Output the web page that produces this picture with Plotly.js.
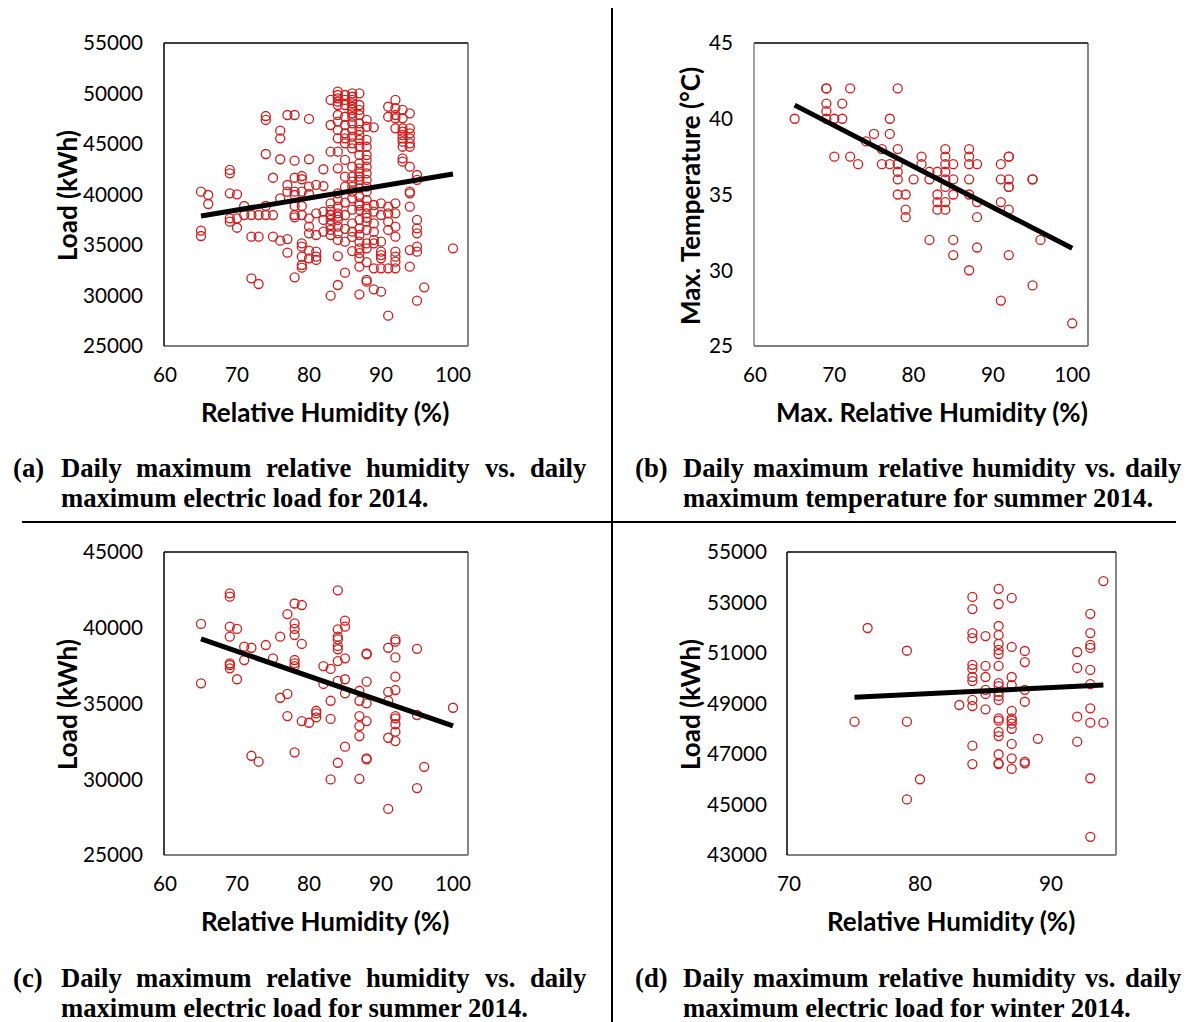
<!DOCTYPE html>
<html><head><meta charset="utf-8">
<script src="https://cdn.plot.ly/plotly-3.0.1.min.js"></script>
<style>body{margin:0;background:#fff}#chart{width:1187px;height:1022px}</style>
</head><body><div id="chart"></div>
<script>
// ---------- DATA ----------
// (a) daily max relative humidity vs daily max load, 2014
const humA = [65,65,65,66,66,69,69,69,69,69,70,70,70,71,71,72,72,72,73,73,73,74,74,74,74,74,75,75,75,76,76,76,76,76,77,77,77,77,77,
78,78,78,78,78,78,78,78,78,79,79,79,79,79,79,79,79,79,79,80,80,80,80,80,80,80,80,80,81,81,81,81,81,81,82,82,82,82,82,
83,83,83,83,83,83,83,83,83,83,83,
84,84,84,84,84,84,84,84,84,84,84,84,84,84,84,84,84,84,84,84,
85,85,85,85,85,85,85,85,85,85,85,85,85,85,
86,86,86,86,86,86,86,86,86,86,86,86,86,86,86,86,86,86,86,86,86,
87,87,87,87,87,87,87,87,87,87,87,87,87,87,87,87,87,87,87,87,87,87,87,87,87,87,87,
88,88,88,88,88,88,88,88,88,88,88,88,88,88,88,88,88,88,88,88,
89,89,89,89,89,89,89,89,89,90,90,90,90,90,90,90,90,91,91,91,91,91,91,91,91,
92,92,92,92,92,92,92,92,92,92,92,92,92,93,93,93,93,93,93,93,93,93,93,
94,94,94,94,94,94,94,94,94,94,94,94,95,95,95,95,95,95,95,95,96,100,
84,85,86,87,88,85,86,83,84,86,87,88];
const loadA = [40280,36420,35890,39950,39060,42430,42100,40120,37640,37310,40020,37640,36710,38860,37970,37970,35820,31700,37970,35820,31140,
47770,47380,44010,38860,37970,41660,37970,35820,46320,45560,43490,39620,35430,47870,40940,40280,35590,34240,
47870,43350,41660,40280,39950,38860,37970,37740,31800,41830,41510,40280,38860,37970,35170,34830,33840,33020,32750,
47480,43490,40770,40050,37640,36810,36160,34440,33680,40950,38140,35990,34340,33840,33520,42500,40840,38300,37480,36320,
49360,46880,44240,39130,38470,37970,37480,36980,36490,35990,29980,
50180,49850,49520,49190,48860,47870,47210,46390,45560,44240,42590,40120,39460,38790,38140,37480,36810,36160,35500,31040,
49850,49360,48860,47700,46880,46060,45560,45070,43420,41760,40770,37970,35330,32260,
50020,49680,49360,49030,48690,48370,48040,47700,47050,46390,45720,45070,44570,42750,41760,41270,40770,40280,39620,37140,36320,
50020,48860,48370,47870,47050,46390,45890,45400,44730,43910,43090,42590,42100,41760,41440,40610,39780,39130,38470,37480,36650,35990,35330,34670,33680,32850,30120,
47380,46710,45400,44730,43910,43420,42750,42100,41440,40770,40280,39460,38790,38140,37310,36490,35170,34670,31540,31370,
46650,38960,38300,37140,36320,35500,35170,32690,30610,39130,37970,35330,34340,34000,33680,32690,30380,
48690,47700,38790,38140,37310,36490,32690,28000,
49360,48540,47870,47550,46550,39130,38140,36810,35820,34340,33840,33350,32690,
48370,47550,46550,46220,45890,45560,45230,44730,43580,43250,
48040,46550,46060,45560,45070,44730,42750,40280,40120,38790,34500,32850,
41930,41440,37480,36650,36160,34830,34340,29490,30810,34670,
37800,36600,38500,38900,37700,39200,35800,38000,33900,34400,34200,33300];
const trendA_x = [65,100], trendA_y = [37870,42030];

// (b) summer 2014: max relative humidity vs max temperature
const humB = [65,69,69,69,69,69,70,70,71,71,72,72,73,74,75,76,76,77,77,77,78,78,78,78,78,78,79,79,79,80,81,81,82,82,82,
83,83,83,83,84,84,84,84,84,84,84,84,85,85,85,85,85,87,87,87,87,87,87,88,88,88,88,91,91,91,91,
92,92,92,92,92,92,92,95,95,95,96,100];
const tempB = [40,42,42,41,40.5,40,40,37.5,41,40,42,37.5,37,38.5,39,38,37,40,39,37,42,38,37,36.5,36,35,35,34,33.5,36,37.5,37,36.5,36,32,
36.5,35,34.5,34,38,37.5,37,36.5,36,35.5,34.5,34,37,36,35,32,31,38,37.5,37,36,35,30,37,34.5,33.5,31.5,37,36,34.5,28,
37.5,36,35.5,34,31,37.5,35.5,36,36,29,32,26.5];
const trendB_x = [65,100], trendB_y = [40.9,31.45];

// (c) summer 2014: max relative humidity vs max load
const humC = [65,65,69,69,69,69,69,69,69,70,70,71,71,72,72,73,74,75,76,76,77,77,77,78,78,78,78,78,78,78,78,79,79,79,80,81,81,81,82,82,
83,83,83,83,84,84,84,84,84,84,84,84,84,85,85,85,85,85,85,87,87,87,87,87,87,88,88,88,88,88,88,88,91,91,91,91,91,
92,92,92,92,92,92,92,92,92,92,95,95,95,96,100];
const loadC = [40250,36330,42270,42050,40070,39410,37650,37540,37320,39920,36600,38750,37870,38680,31550,31160,38860,37980,39410,35380,40900,35630,34170,
41600,40290,39920,39520,37870,37650,37470,31780,41500,38930,33840,33730,34350,34090,34520,37470,36290,
37280,35180,33980,29990,42470,39890,39410,39230,38800,38580,37800,36490,31090,40470,40070,37980,36600,35670,32150,
35840,35180,34170,33510,32850,30030,38300,38240,36440,35010,33840,31380,31310,38680,35770,35180,32740,28040,
39230,39080,38040,36770,35890,34170,34020,33630,33140,32520,38610,34240,29420,30820,34720];
const trendC_x = [65,100], trendC_y = [39260,33520];

// (d) winter 2014: max relative humidity vs max load
const humD = [75,76,79,79,79,80,83,84,84,84,84,84,84,84,84,84,84,84,84,85,85,85,85,85,85,
86,86,86,86,86,86,86,86,86,86,86,86,86,86,86,86,86,86,86,86,87,87,87,87,87,87,87,87,87,87,87,87,
88,88,88,88,88,88,89,92,92,92,92,93,93,93,93,93,93,93,93,93,93,94,94];
const loadD = [48280,51990,51090,48280,45200,46000,48940,53220,52740,51790,51590,50530,50370,50050,49890,49140,48900,47330,46600,
51670,50490,50050,49540,49380,48770,
53540,52940,52070,51710,51360,51120,50960,50490,49810,49690,49460,49300,49140,48410,48320,47880,47710,46990,46630,46600,
53180,51240,50050,49730,48710,48410,48320,48200,48000,47400,46830,46410,
51080,50640,49540,49070,46700,46630,47600,51040,50410,48480,47490,
52550,51790,51320,51200,50330,49770,48810,48240,46040,43720,53850,48240];
const trendD_x = [75,94], trendD_y = [49250,49730];

const ticksAC = ['60','70','80','90','100'];
const ticksD = ['70','80','90'];

// ---------- LAYOUT HELPERS ----------
const W = 1187, H = 1022;
const px = v => v / W, py = v => 1 - v / H;
const cv = document.createElement('canvas').getContext('2d');
function measure(font, txt){ cv.font = font; return cv.measureText(txt).width; }

const SERIF = '"Liberation Serif", "Times New Roman", serif';
const capSize = 368 / measure('bold 100px ' + SERIF, 'maximum electric load for 2014.') * 100;
const SANS = 'Lato, Carlito, Calibri, sans-serif';
const titleSize = 249 / measure('bold 100px Lato', 'Relative Humidity (%)') * 100;
const tickSize = 60 / measure('100px Lato', '55000') * 100;

const red = 'rgb(204,30,30)';
function pts(x, y, xa, ya){
  return {type:'scatter', mode:'markers', x:x, y:y, xaxis:xa, yaxis:ya, showlegend:false, hoverinfo:'skip',
    marker:{symbol:'circle-open', size:9, color:red, line:{width:1.3, color:red}}};
}
function trend(x, y, xa, ya){
  return {type:'scatter', mode:'lines', x:x, y:y, xaxis:xa, yaxis:ya, showlegend:false, hoverinfo:'skip',
    line:{color:'#000', width:5}};
}
const data = [
  pts(humA, loadA, 'x', 'y'), trend(trendA_x, trendA_y, 'x', 'y'),
  pts(humB, tempB, 'x2', 'y2'), trend(trendB_x, trendB_y, 'x2', 'y2'),
  pts(humC, loadC, 'x3', 'y3'), trend(trendC_x, trendC_y, 'x3', 'y3'),
  pts(humD, loadD, 'x4', 'y4'), trend(trendD_x, trendD_y, 'x4', 'y4')
];

const tickFont = {family:SANS, size:tickSize, color:'#000'};
function xax(l, r, range, vals){
  return {domain:[px(l), px(r)], range:range, showgrid:false, zeroline:false, showline:false, ticks:'',
    tickvals:vals.map(Number), ticktext:vals, tickfont:tickFont, ticklabelstandoff:14, fixedrange:true};
}
function yax(t, b, range, dtick, anchor){
  return {domain:[py(b), py(t)], range:range, showgrid:false, zeroline:false, showline:false, ticks:'',
    dtick:dtick, tick0:range[0], tickformat:'d', tickfont:tickFont, ticklabelstandoff:21, anchor:anchor, fixedrange:true};
}

const shapes = [];
function box(l, t, r, b, leftCol){
  const L = (x0,y0,x1,y1,c,w)=>shapes.push({type:'line', xref:'paper', yref:'paper', x0:px(x0), y0:py(y0), x1:px(x1), y1:py(y1), line:{color:c, width:w}});
  L(l,t,r,t,'#000',1.5); L(r,t,r,b,'#333',1.2); L(l,b,r,b,'#808080',2); L(l,t,l,b,leftCol,1.5);
}
box(164,43,468,346,'#000'); box(754,43,1088,346,'#808080'); box(164,552,468,855,'#000'); box(787,552,1116,855,'#000');
shapes.push({type:'line', xref:'paper', yref:'paper', x0:px(612), y0:py(8), x1:px(612), y1:py(1022), line:{color:'#000', width:2}});
shapes.push({type:'line', xref:'paper', yref:'paper', x0:px(22), y0:py(522), x1:px(1176), y1:py(522), line:{color:'#000', width:2}});

const ann = [];
function txt(t, x, y, opts){
  ann.push(Object.assign({text:t, xref:'paper', yref:'paper', x:px(x), y:py(y), showarrow:false, xanchor:'center', yanchor:'middle',
    font:{family:SANS, size:titleSize, color:'#000'}}, opts||{}));
}
// axis titles
txt('<b>Relative Humidity (%)</b>', 325, 412);
txt('<b>Load (kWh)</b>', 67, 196, {textangle:-90});
txt('<b>Max. Relative Humidity (%)</b>', 932, 412);
txt('<b>Max. Temperature (°C)</b>', 690, 196, {textangle:-90});
txt('<b>Relative Humidity (%)</b>', 325, 921);
txt('<b>Load (kWh)</b>', 67, 705, {textangle:-90});
txt('<b>Relative Humidity (%)</b>', 951, 921);
txt('<b>Load (kWh)</b>', 690, 705, {textangle:-90});

// captions
const capFont = {family:SERIF, size:capSize, color:'#000'};
function capWord(w, x, y){ txt('<b>'+w+'</b>', x, y, {xanchor:'left', font:capFont, borderpad:0}); }
function justify(words, x0, x1, y){
  const f = 'bold ' + capSize + 'px ' + SERIF;
  const ws = words.map(w => measure(f, w));
  const gap = (x1 - x0 - ws.reduce((a,b)=>a+b,0)) / (words.length - 1);
  let x = x0;
  words.forEach((w,i)=>{ capWord(w, x, y); x += ws[i] + gap; });
}
const line1 = ['Daily','maximum','relative','humidity','vs.','daily'];
capWord('(a)', 12, 468); justify(line1, 60, 585, 468); capWord('maximum electric load for 2014.', 60, 498);
capWord('(b)', 634, 468); justify(line1, 682, 1180, 468); capWord('maximum temperature for summer 2014.', 682, 498);
capWord('(c)', 12, 978); justify(line1, 60, 585, 978); capWord('maximum electric load for summer 2014.', 60, 1008);
capWord('(d)', 634, 978); justify(line1, 682, 1180, 978); capWord('maximum electric load for winter 2014.', 682, 1008);

const layout = {
  width:W, height:H, autosize:false, margin:{l:0,r:0,t:0,b:0}, paper_bgcolor:'#fff', plot_bgcolor:'rgba(0,0,0,0)',
  xaxis: xax(165, 468, [60, 60+303/7.2], ticksAC), yaxis: yax(43, 346, [25000,55000], 5000, 'x'),
  xaxis2: Object.assign(xax(755, 1088, [60, 60+333/7.93], ticksAC), {anchor:'y2'}), yaxis2: yax(43, 346, [25,45], 5, 'x2'),
  xaxis3: Object.assign(xax(165, 468, [60, 60+303/7.2], ticksAC), {anchor:'y3'}), yaxis3: yax(552, 855, [25000,45000], 5000, 'x3'),
  xaxis4: Object.assign(xax(789, 1116, [70, 70+327/13.1], ticksD), {anchor:'y4'}), yaxis4: yax(552, 855, [43000,55000], 2000, 'x4'),
  shapes:shapes, annotations:ann, showlegend:false
};
Plotly.newPlot('chart', data, layout, {staticPlot:true, displayModeBar:false});
</script></body></html>
